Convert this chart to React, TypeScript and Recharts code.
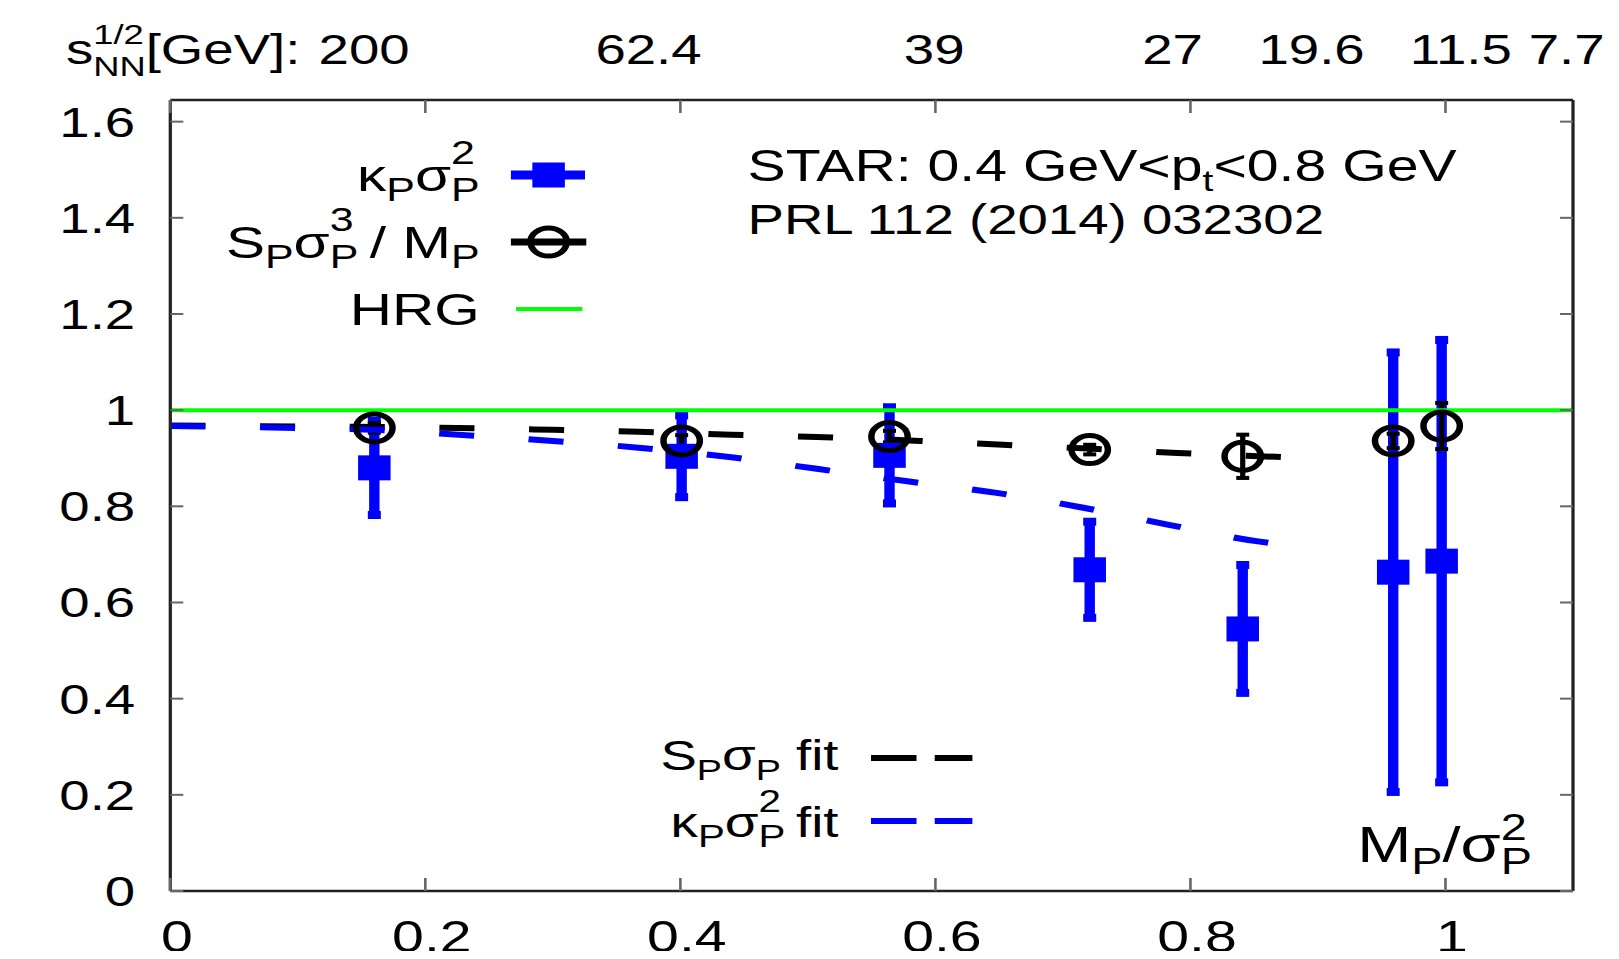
import React from 'react';
import {
  ComposedChart,
  Scatter,
  Line,
  XAxis,
  YAxis,
  ErrorBar,
  ReferenceLine,
} from 'recharts';

// values (x = M_P / sigma_P^2)
const kappaSigma2 = [
  { x: 0.160, y: 0.880, err: 0.098 },
  { x: 0.401, y: 0.904, err: 0.085 },
  { x: 0.564, y: 0.906, err: 0.100 },
  { x: 0.721, y: 0.668, err: 0.100 },
  { x: 0.841, y: 0.545, err: 0.133 },
  { x: 0.959, y: 0.663, err: 0.457 },
  { x: 0.997, y: 0.686, err: 0.460 },
];

const sSigma3OverM = [
  { x: 0.160, y: 0.963, err: 0.010 },
  { x: 0.401, y: 0.936, err: 0.012 },
  { x: 0.564, y: 0.945, err: 0.012 },
  { x: 0.721, y: 0.918, err: 0.010 },
  { x: 0.841, y: 0.904, err: 0.045 },
  { x: 0.959, y: 0.936, err: 0.015 },
  { x: 0.997, y: 0.967, err: 0.048 },
];

const sSigmaFit = [
  { x: 0, y: 0.968 },
  { x: 0.1, y: 0.966 },
  { x: 0.226, y: 0.963 },
  { x: 0.3, y: 0.959 },
  { x: 0.367, y: 0.955 },
  { x: 0.44, y: 0.949 },
  { x: 0.507, y: 0.944 },
  { x: 0.588, y: 0.936 },
  { x: 0.653, y: 0.928 },
  { x: 0.72, y: 0.92 },
  { x: 0.79, y: 0.911 },
  { x: 0.877, y: 0.902 },
];

const kappaSigma2Fit = [
  { x: 0, y: 0.967 },
  { x: 0.1, y: 0.963 },
  { x: 0.16, y: 0.959 },
  { x: 0.226, y: 0.949 },
  { x: 0.3, y: 0.936 },
  { x: 0.367, y: 0.922 },
  { x: 0.44, y: 0.902 },
  { x: 0.507, y: 0.878 },
  { x: 0.578, y: 0.852 },
  { x: 0.648, y: 0.828 },
  { x: 0.716, y: 0.797 },
  { x: 0.784, y: 0.761 },
  { x: 0.853, y: 0.727 },
  { x: 0.877, y: 0.719 },
];

const HRG = 1;

const X_TICKS = [0, 0.2, 0.4, 0.6, 0.8, 1];
const Y_TICKS = [0, 0.2, 0.4, 0.6, 0.8, 1, 1.2, 1.4, 1.6];
const X_DOMAIN = [0, 1.1];
const Y_DOMAIN = [0, 1.645];

// sqrt(s_NN) labels on the top edge, placed at their M/sigma^2
const TOP_POS = [0.152, 0.375, 0.599, 0.786, 0.895, 1.012, 1.095];
const TOP_LABELS = ['200', '62.4', '39', '27', '19.6', '11.5', '7.7'];

const FONT = '"Liberation Sans", Arial, Helvetica, sans-serif';
const BLUE = '#0000ff';
const GREEN = '#00ff00';
const FRAME = '#222';
const TICK = '#666';

// the original figure is stretched horizontally; draw narrow and stretch
const STRETCH = 1.3;
const W = 1245;
const H = 959;

function TopTick(props: any) {
  const { x, y, payload, index } = props;
  let i = TOP_POS.indexOf(payload?.value);
  if (i < 0) i = index;
  return (
    <g fontFamily={FONT} fill="#000">
      <text x={x} y={y} textAnchor="middle" fontSize={42}>
        {TOP_LABELS[i]}
      </text>
      {i === 0 && (
        <text x={x - 49} y={y} textAnchor="end" fontSize={42}>
          s
          <tspan fontSize={28} dy={-20}>1/2</tspan>
          <tspan fontSize={28} dx={-39} dy={32}>NN</tspan>
          <tspan dy={-12}>[GeV]:</tspan>
        </text>
      )}
    </g>
  );
}

// tick marks only, no label
const NoLabel = () => <g />;

const square = (p: any) => (
  <rect x={p.cx - 12.5} y={p.cy - 12.5} width={25} height={25} fill={BLUE} />
);

const ring = (p: any) => (
  <circle cx={p.cx} cy={p.cy} r={14} fill="none" stroke="#000" strokeWidth={5} />
);

function Annotations() {
  return (
    <g fontFamily={FONT} fill="#000">
      {/* key, top left */}
      <text x={369} y={191} textAnchor="end" fontSize={45}>
        κ<tspan fontSize={33} dy={10}>P</tspan>
        <tspan dy={-10}>σ</tspan>
        <tspan fontSize={33} dy={10}>P</tspan>
        <tspan fontSize={33} dx={-22} dy={-37}>2</tspan>
      </text>
      <line x1={393} x2={450} y1={175} y2={175} stroke={BLUE} strokeWidth={9} />
      <rect x={409.5} y={162.5} width={25} height={25} fill={BLUE} />

      <text x={369} y={258} textAnchor="end" fontSize={45}>
        S<tspan fontSize={33} dy={10}>P</tspan>
        <tspan dy={-10}>σ</tspan>
        <tspan fontSize={33} dy={10}>P</tspan>
        <tspan fontSize={33} dx={-22} dy={-37}>3</tspan>
        <tspan dy={27}> / M</tspan>
        <tspan fontSize={33} dy={10}>P</tspan>
      </text>
      <line x1={393} x2={451} y1={242} y2={242} stroke="#000" strokeWidth={7} />
      <circle cx={422} cy={242} r={14} fill="none" stroke="#000" strokeWidth={5} />

      <text x={369} y={325} textAnchor="end" fontSize={45}>HRG</text>
      <line x1={397} x2={448} y1={309} y2={309} stroke={GREEN} strokeWidth={4} />

      {/* data reference */}
      <text x={575} y={181} fontSize={44}>
        {'STAR: 0.4 GeV<p'}
        <tspan fontSize={30} dy={10}>t</tspan>
        <tspan dy={-10}>{'<0.8 GeV'}</tspan>
      </text>
      <text x={575} y={234} fontSize={42}>PRL 112 (2014) 032302</text>

      {/* key, bottom */}
      <text x={645} y={770} textAnchor="end" fontSize={42}>
        S<tspan fontSize={29} dy={10}>P</tspan>
        <tspan dy={-10}>σ</tspan>
        <tspan fontSize={29} dy={10}>P</tspan>
        <tspan dy={-10}> fit</tspan>
      </text>
      <line x1={670} x2={748} y1={758} y2={758} stroke="#000" strokeWidth={6} strokeDasharray="35 14" />

      <text x={645} y={837} textAnchor="end" fontSize={42}>
        κ<tspan fontSize={31} dy={10}>P</tspan>
        <tspan dy={-10}>σ</tspan>
        <tspan fontSize={31} dy={10}>P</tspan>
        <tspan fontSize={31} dx={-20.7} dy={-35}>2</tspan>
        <tspan dy={25}> fit</tspan>
      </text>
      <line x1={670} x2={748} y1={821} y2={821} stroke={BLUE} strokeWidth={6} strokeDasharray="35 14" />

      {/* x-axis title inside the frame */}
      <text x={1044} y={862} fontSize={50}>
        M<tspan fontSize={36} dy={12}>P</tspan>
        <tspan dy={-12}>/σ</tspan>
        <tspan fontSize={36} dy={12}>P</tspan>
        <tspan fontSize={36} dx={-24} dy={-34}>2</tspan>
      </text>
    </g>
  );
}

export default function App() {
  return (
    <div
      style={{
        width: 1619,
        height: H,
        margin: '-8px 0 -8px -8px',
        overflow: 'hidden',
        background: '#fff',
      }}
    >
      <div style={{ width: W, height: H, transform: `scaleX(${STRETCH})`, transformOrigin: '0 0' }}>
        <ComposedChart
          width={W}
          height={H}
          data={sSigmaFit}
          margin={{ top: 0, right: 35, bottom: 0, left: 0 }}
        >
          {/* labelled axes */}
          <XAxis
            xAxisId="x"
            dataKey="x"
            type="number"
            domain={X_DOMAIN}
            allowDataOverflow
            ticks={X_TICKS}
            interval={0}
            height={68}
            tickLine={false}
            tickSize={0}
            tickMargin={30}
            axisLine={{ stroke: FRAME, strokeWidth: 2.5 }}
            tick={{ fontSize: 44, fill: '#000', fontFamily: FONT, dx: 5 }}
          />
          <XAxis
            xAxisId="top"
            dataKey="x"
            type="number"
            orientation="top"
            domain={X_DOMAIN}
            allowDataOverflow
            ticks={TOP_POS}
            interval={0}
            height={100}
            tickLine={false}
            tickSize={0}
            tickMargin={36}
            axisLine={{ stroke: FRAME, strokeWidth: 2.5 }}
            tick={<TopTick />}
          />
          <YAxis
            yAxisId="y"
            dataKey="y"
            type="number"
            domain={Y_DOMAIN}
            allowDataOverflow
            ticks={Y_TICKS}
            interval={0}
            width={131}
            tickLine={false}
            tickSize={0}
            tickMargin={27}
            axisLine={{ stroke: FRAME, strokeWidth: 2.5 }}
            tick={{ fontSize: 42, fill: '#000', fontFamily: FONT }}
          />
          <YAxis
            yAxisId="right"
            dataKey="y"
            type="number"
            orientation="right"
            mirror
            domain={Y_DOMAIN}
            allowDataOverflow
            ticks={Y_TICKS}
            interval={0}
            width={1}
            tick={NoLabel}
            tickSize={10}
            tickLine={{ stroke: TICK, strokeWidth: 2 }}
            axisLine={{ stroke: FRAME, strokeWidth: 2.5 }}
          />
          {/* inward tick marks on the frame */}
          <XAxis
            xAxisId="bottomTicks"
            dataKey="x"
            type="number"
            mirror
            domain={X_DOMAIN}
            allowDataOverflow
            ticks={X_TICKS}
            interval={0}
            height={1}
            tick={NoLabel}
            tickSize={13}
            tickLine={{ stroke: TICK, strokeWidth: 2 }}
            axisLine={false}
          />
          <XAxis
            xAxisId="topTicks"
            dataKey="x"
            type="number"
            orientation="top"
            mirror
            domain={X_DOMAIN}
            allowDataOverflow
            ticks={X_TICKS}
            interval={0}
            height={1}
            tick={NoLabel}
            tickSize={13}
            tickLine={{ stroke: TICK, strokeWidth: 2 }}
            axisLine={false}
          />
          <YAxis
            yAxisId="leftTicks"
            dataKey="y"
            type="number"
            mirror
            domain={Y_DOMAIN}
            allowDataOverflow
            ticks={Y_TICKS}
            interval={0}
            width={1}
            tick={NoLabel}
            tickSize={10}
            tickLine={{ stroke: TICK, strokeWidth: 2 }}
            axisLine={false}
          />

          <Scatter
            name="kappa sigma^2"
            data={kappaSigma2}
            xAxisId="x"
            yAxisId="y"
            dataKey="y"
            shape={square}
            isAnimationActive={false}
          >
            <ErrorBar dataKey="err" direction="y" width={5} stroke={BLUE} strokeWidth={8} isAnimationActive={false} />
          </Scatter>
          <Scatter
            name="S sigma^3 / M"
            data={sSigma3OverM}
            xAxisId="x"
            yAxisId="y"
            dataKey="y"
            shape={ring}
            isAnimationActive={false}
          >
            <ErrorBar dataKey="err" direction="y" width={5} stroke="#000" strokeWidth={4} isAnimationActive={false} />
          </Scatter>

          <ReferenceLine xAxisId="x" yAxisId="y" y={HRG} stroke={GREEN} strokeWidth={4} />

          <Line
            data={sSigmaFit}
            xAxisId="x"
            yAxisId="y"
            dataKey="y"
            type="monotone"
            stroke="#000"
            strokeWidth={6}
            strokeDasharray="27 42"
            dot={false}
            isAnimationActive={false}
          />
          <Line
            data={kappaSigma2Fit}
            xAxisId="x"
            yAxisId="y"
            dataKey="y"
            type="monotone"
            stroke={BLUE}
            strokeWidth={6}
            strokeDasharray="27 42"
            dot={false}
            isAnimationActive={false}
          />

          <Annotations />
        </ComposedChart>
      </div>
    </div>
  );
}
